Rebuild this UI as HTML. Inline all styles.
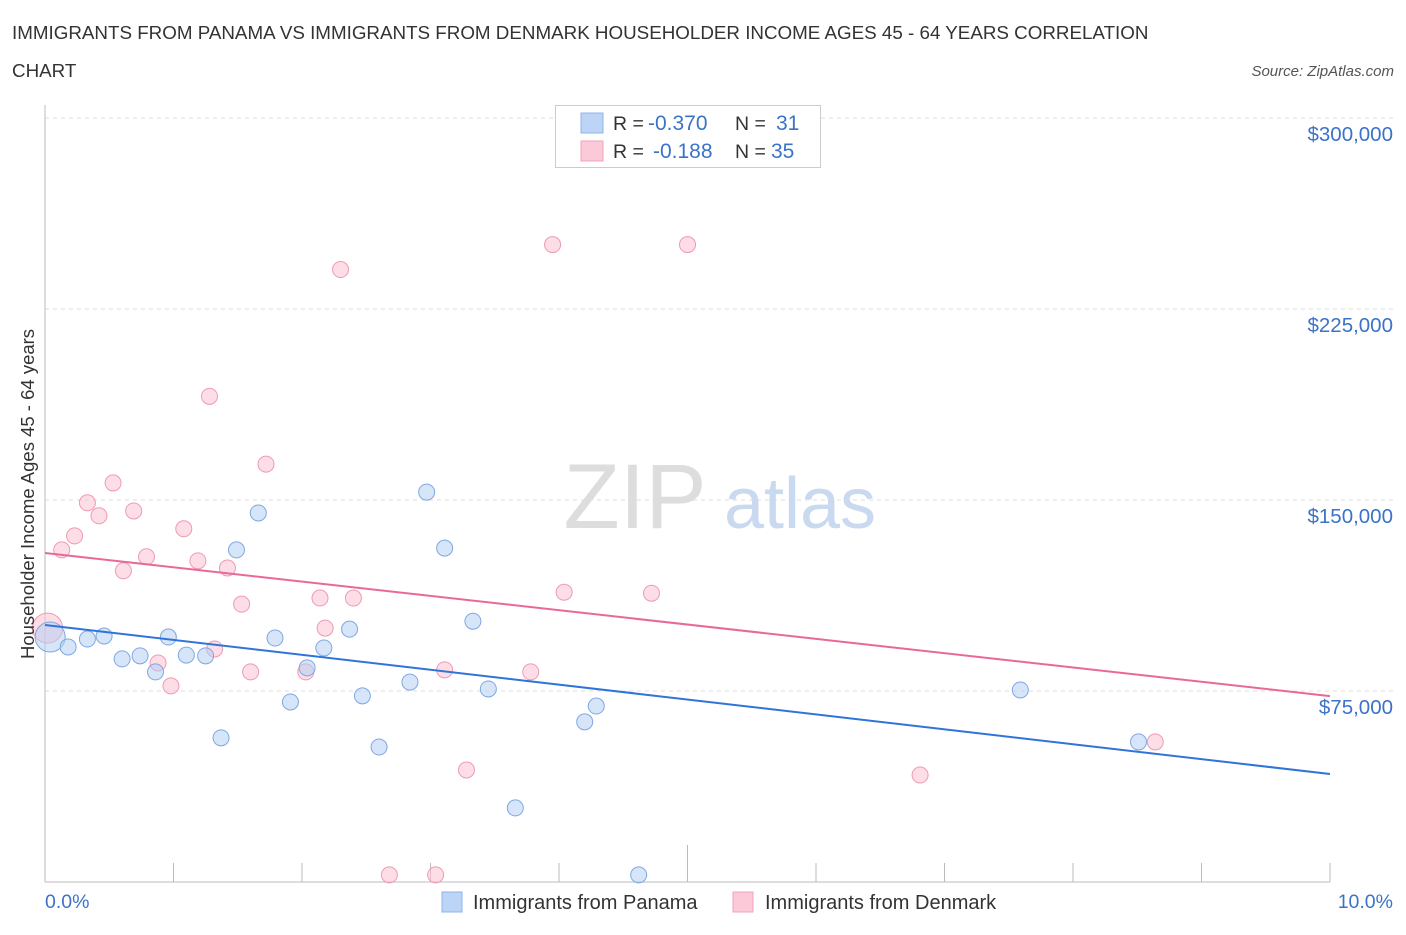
<!DOCTYPE html>
<html><head><meta charset="utf-8"><style>
body{margin:0;background:#fff;font-family:"Liberation Sans",sans-serif;}
svg text{font-family:"Liberation Sans",sans-serif;}
</style></head><body>
<svg id="c" width="1406" height="930" xmlns="http://www.w3.org/2000/svg">
<text x="12" y="39" font-size="18.8" fill="#333">IMMIGRANTS FROM PANAMA VS IMMIGRANTS FROM DENMARK HOUSEHOLDER INCOME AGES 45 - 64 YEARS CORRELATION</text>
<text x="12" y="77" font-size="18.8" fill="#333">CHART</text>
<text x="1394" y="76" font-size="15" fill="#555" font-style="italic" text-anchor="end">Source: ZipAtlas.com</text>
<g id="grid"></g>
<text x="635" y="528" font-size="92" fill="#ddd" font-family="Liberation Serif" text-anchor="middle">ZIP</text>
<text x="800" y="528" font-size="72" fill="#c9d9f0" text-anchor="middle">atlas</text>
<g id="marks"></g>
<text transform="translate(34,494) rotate(-90)" font-size="18.5" fill="#333" text-anchor="middle">Householder Income Ages 45 - 64 years</text>
<text x="45" y="908" font-size="19.5" fill="#3b73c9">0.0%</text>
<text x="1393" y="908" font-size="19.5" fill="#3b73c9" text-anchor="end">10.0%</text>
<g>
<rect x="555.5" y="105.5" width="265" height="62" fill="#fff" stroke="#ccc"/>
<rect x="581" y="113" width="22" height="20" fill="#bcd4f5" stroke="#8fb3e8"/>
<rect x="581" y="141" width="22" height="20" fill="#fbc9d8" stroke="#f0a3bb"/>
<text x="613" y="130" font-size="19.5" fill="#333">R =</text><text x="648" y="130" font-size="21" fill="#3b73c9">-0.370</text>
<text x="735" y="130" font-size="19.5" fill="#333">N =</text><text x="776" y="130" font-size="21" fill="#3b73c9">31</text>
<text x="613" y="158" font-size="19.5" fill="#333">R =</text><text x="653" y="158" font-size="21" fill="#3b73c9">-0.188</text>
<text x="735" y="158" font-size="19.5" fill="#333">N =</text><text x="771" y="158" font-size="21" fill="#3b73c9">35</text>
</g>
<g>
<rect x="442" y="892" width="20" height="20" fill="#bcd4f5" stroke="#8fb3e8"/>
<text x="473" y="909" font-size="20" fill="#333">Immigrants from Panama</text>
<rect x="733" y="892" width="20" height="20" fill="#fbc9d8" stroke="#f0a3bb"/>
<text x="765" y="909" font-size="20" fill="#333">Immigrants from Denmark</text>
</g>
</svg>
<script>
const yTicks=[75000,150000,225000,300000];
const yTickLabels=["$75,000","$150,000","$225,000","$300,000"];
const panamaX=[0.04,0.18,0.33,0.46,0.60,0.74,0.86,0.96,1.10,1.25,1.37,1.49,1.66,1.79,1.91,2.04,2.17,2.37,2.47,2.60,2.84,2.97,3.11,3.33,3.45,4.20,4.29,3.66,4.62,7.59,8.51];
const panamaY=[96200,92300,95400,96600,87600,88800,82500,96200,89100,88800,56600,130400,144900,95800,70700,84100,91900,99300,73100,53000,78500,153100,131100,102400,75800,62900,69100,29100,2800,75400,55000];
const denmarkX=[0.02,0.13,0.23,0.33,0.42,0.53,0.69,0.79,0.61,0.88,0.98,1.08,1.19,1.28,1.42,1.53,1.60,1.72,2.03,2.14,2.18,2.30,2.40,2.68,3.04,3.11,3.28,3.78,3.95,4.04,4.72,5.00,6.81,8.64,1.32];
const denmarkY=[99700,130400,135900,148900,143800,156700,145700,127700,122200,86000,77000,138700,126100,190700,123300,109100,82500,164100,82500,111500,99700,240500,111500,2800,2800,83300,44000,82500,250300,113800,113400,250300,42000,55000,91500];
const panamaFit=[100900,42400];
const denmarkFit=[129200,73000];
const NS="http://www.w3.org/2000/svg";
const X0=45,X1=1330;
const xs=p=>X0+(X1-X0)*p/10;
const ys=v=>691-(v-75000)*191/75000;
function mk(t,a,parent){const e=document.createElementNS(NS,t);for(const k in a)e.setAttribute(k,a[k]);parent.appendChild(e);return e;}
const grid=document.getElementById('grid'),marks=document.getElementById('marks');
yTicks.forEach((v,i)=>{
 const l=mk('line',{x1:45,x2:1394,y1:ys(v),y2:ys(v),stroke:'#ddd','stroke-dasharray':'4,4'},grid);
 
 
 const t=mk('text',{x:1393,y:ys(v)+23,'font-size':20.5,fill:'#3b73c9','text-anchor':'end'},grid);
 t.textContent=yTickLabels[i];
 
 
});
const ax=mk('line',{x1:45,x2:45,y1:105,y2:882,stroke:'#bbb'},grid);


const bx=mk('line',{x1:45,x2:1330,y1:882,y2:882,stroke:'#bbb'},grid);


for(let i=0;i<=10;i++){
 const t=mk('line',{x1:xs(i),x2:xs(i),y1:i==5?845:863,y2:882,stroke:'#bbb'},grid);
 
 
}
function pts(X,Y,fill,stroke,name,bigFirst){
 X.forEach((x,i)=>{
  const c=mk('circle',{cx:xs(x),cy:ys(Y[i]),r:(bigFirst&&i==0)?15:8,fill:fill,'fill-opacity':0.55,stroke:stroke,'stroke-width':1},marks);
  
  
 });
}
pts(denmarkX,denmarkY,'#fbc1d2','#ee9ab4','denmark-point',true);
pts(panamaX,panamaY,'#b5cff3','#7ea8e3','panama-point',true);
const l1=mk('line',{x1:xs(0),y1:ys(panamaFit[0]),x2:xs(10),y2:ys(panamaFit[1]),stroke:'#2f74d8','stroke-width':2},marks);


const l2=mk('line',{x1:xs(0),y1:ys(denmarkFit[0]),x2:xs(10),y2:ys(denmarkFit[1]),stroke:'#e8689a','stroke-width':2},marks);


</script>
</body></html>
